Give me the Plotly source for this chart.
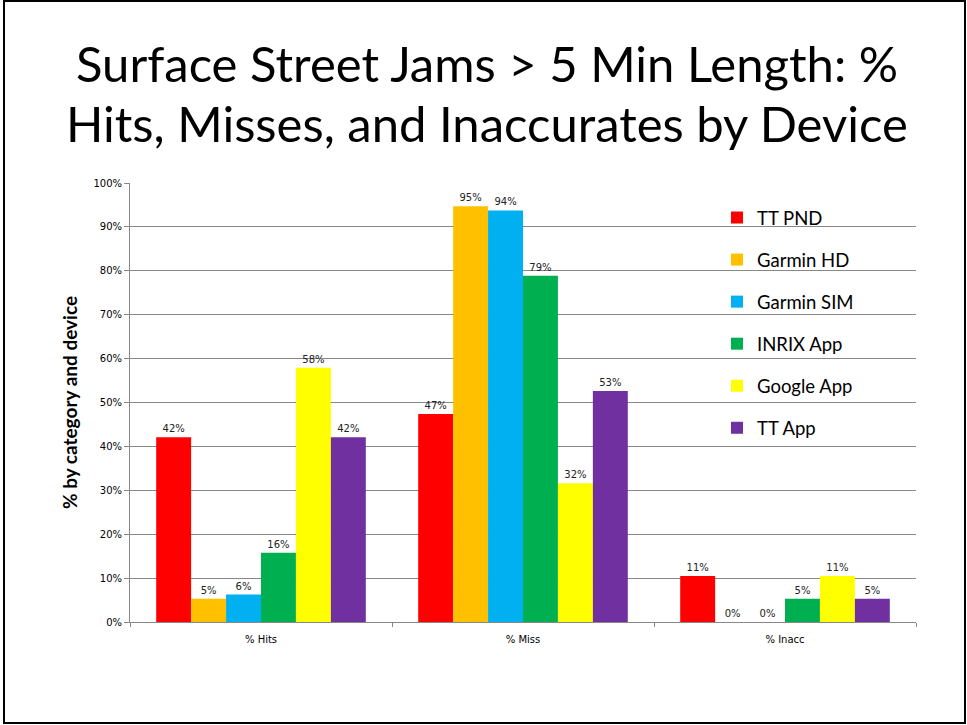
import plotly.graph_objects as go

categories = ["% Hits", "% Miss", "% Inacc"]
devices = ["TT PND", "Garmin HD", "Garmin SIM", "INRIX App", "Google App", "TT App"]
tt_pnd = [0.421, 0.474, 0.105]
garmin_hd = [0.053, 0.947, 0.0]
garmin_sim = [0.0625, 0.9375, 0.0]
inrix_app = [0.158, 0.789, 0.053]
google_app = [0.579, 0.316, 0.105]
tt_app = [0.421, 0.526, 0.053]
series = [tt_pnd, garmin_hd, garmin_sim, inrix_app, google_app, tt_app]
colors = ["#FF0000", "#FFC000", "#00B0F0", "#00B050", "#FFFF00", "#7030A0"]
y_ticks = [i / 10 for i in range(11)]
title_lines = ["Surface Street Jams > 5 Min Length: %", "Hits, Misses, and Inaccurates by Device"]

W, H = 967, 725
L, R, T, B = 130, 51, 183, 103
pw, ph = W - L - R, H - T - B

fig = go.Figure()
for name, vals, col in zip(devices, series, colors):
    fig.add_trace(go.Bar(
        x=categories, y=vals, name=name, marker=dict(color=col, line=dict(width=0)),
        texttemplate="%{y:.0%}", textposition="outside", cliponaxis=False,
        textfont=dict(family="DejaVu Sans", size=10, color="#222"),
        legendgroup=name,
    ))

def px(x):
    return (x - L) / pw

def py(y):
    return (H - B - y) / ph

annotations = []
for line, yc in zip(title_lines, [63, 123]):
    annotations.append(dict(
        text=line, xref="paper", yref="paper", x=px(487), y=py(yc),
        xanchor="center", yanchor="middle", showarrow=False,
        font=dict(family="Lato", size=49, color="black"),
    ))

fig.update_layout(
    width=W, height=H,
    margin=dict(l=L, r=R, t=T, b=B),
    paper_bgcolor="white", plot_bgcolor="white",
    barmode="group", bargap=0.2, bargroupgap=0,
    annotations=annotations,
    showlegend=True,
    legend=dict(
        x=px(717), y=py(199), xanchor="left", yanchor="top",
        bgcolor="rgba(0,0,0,0)", font=dict(family="Lato", size=18.5, color="black"),
        tracegroupgap=15, itemwidth=30,
    ),
    xaxis=dict(
        showline=True, linecolor="#888", linewidth=1,
        ticks="outside", tickson="boundaries", ticklen=4, tickcolor="#888",
        tickfont=dict(family="DejaVu Sans", size=10, color="black"),
        ticklabelstandoff=8,
        showgrid=False,
    ),
    yaxis=dict(
        range=[0, 1], tickvals=y_ticks, tickformat=".0%",
        showline=True, linecolor="#888", linewidth=1,
        ticks="outside", ticklen=5, tickcolor="#888",
        showgrid=True, gridcolor="#888", gridwidth=1,
        tickfont=dict(family="DejaVu Sans", size=10, color="black"),
        title=dict(text="<b>% by category and device</b>", font=dict(family="Lato", size=19, color="black"), standoff=10),
        zeroline=False,
    ),
    shapes=[dict(
        type="rect", xref="paper", yref="paper",
        x0=px(4), x1=px(965), y0=py(723), y1=py(1),
        line=dict(color="black", width=2), fillcolor="rgba(0,0,0,0)", layer="above",
    )],
)

fig.write_html("out.html", config={"displayModeBar": False},
               post_script="document.body.style.margin='0';")
